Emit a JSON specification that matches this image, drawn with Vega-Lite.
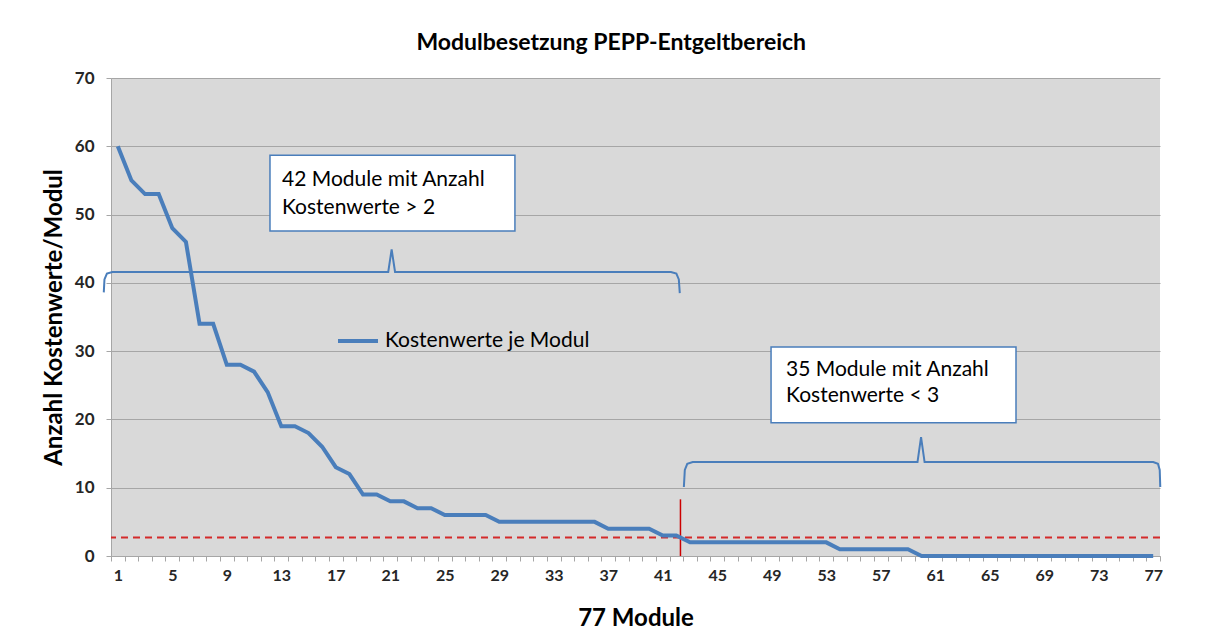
{
  "$schema": "https://vega.github.io/schema/vega-lite/v6.json",
  "width": 1049,
  "height": 478,
  "padding": {"left": 42, "top": 32, "right": 5, "bottom": 5},
  "background": "white",
  "title": {
    "text": "Modulbesetzung PEPP-Entgeltbereich",
    "font": "Lato",
    "fontSize": 23,
    "fontWeight": "bold",
    "color": "#000000",
    "anchor": "middle",
    "frame": "bounds",
    "dx": 8,
    "offset": 14
  },
  "config": {
    "view": {"fill": "#d9d9d9", "stroke": null},
    "font": "Lato"
  },
  "datasets": {
    "series": [
      {"modul": 1, "wert": 60, "serie": "Kostenwerte je Modul"},
      {"modul": 2, "wert": 55, "serie": "Kostenwerte je Modul"},
      {"modul": 3, "wert": 53, "serie": "Kostenwerte je Modul"},
      {"modul": 4, "wert": 53, "serie": "Kostenwerte je Modul"},
      {"modul": 5, "wert": 48, "serie": "Kostenwerte je Modul"},
      {"modul": 6, "wert": 46, "serie": "Kostenwerte je Modul"},
      {"modul": 7, "wert": 34, "serie": "Kostenwerte je Modul"},
      {"modul": 8, "wert": 34, "serie": "Kostenwerte je Modul"},
      {"modul": 9, "wert": 28, "serie": "Kostenwerte je Modul"},
      {"modul": 10, "wert": 28, "serie": "Kostenwerte je Modul"},
      {"modul": 11, "wert": 27, "serie": "Kostenwerte je Modul"},
      {"modul": 12, "wert": 24, "serie": "Kostenwerte je Modul"},
      {"modul": 13, "wert": 19, "serie": "Kostenwerte je Modul"},
      {"modul": 14, "wert": 19, "serie": "Kostenwerte je Modul"},
      {"modul": 15, "wert": 18, "serie": "Kostenwerte je Modul"},
      {"modul": 16, "wert": 16, "serie": "Kostenwerte je Modul"},
      {"modul": 17, "wert": 13, "serie": "Kostenwerte je Modul"},
      {"modul": 18, "wert": 12, "serie": "Kostenwerte je Modul"},
      {"modul": 19, "wert": 9, "serie": "Kostenwerte je Modul"},
      {"modul": 20, "wert": 9, "serie": "Kostenwerte je Modul"},
      {"modul": 21, "wert": 8, "serie": "Kostenwerte je Modul"},
      {"modul": 22, "wert": 8, "serie": "Kostenwerte je Modul"},
      {"modul": 23, "wert": 7, "serie": "Kostenwerte je Modul"},
      {"modul": 24, "wert": 7, "serie": "Kostenwerte je Modul"},
      {"modul": 25, "wert": 6, "serie": "Kostenwerte je Modul"},
      {"modul": 26, "wert": 6, "serie": "Kostenwerte je Modul"},
      {"modul": 27, "wert": 6, "serie": "Kostenwerte je Modul"},
      {"modul": 28, "wert": 6, "serie": "Kostenwerte je Modul"},
      {"modul": 29, "wert": 5, "serie": "Kostenwerte je Modul"},
      {"modul": 30, "wert": 5, "serie": "Kostenwerte je Modul"},
      {"modul": 31, "wert": 5, "serie": "Kostenwerte je Modul"},
      {"modul": 32, "wert": 5, "serie": "Kostenwerte je Modul"},
      {"modul": 33, "wert": 5, "serie": "Kostenwerte je Modul"},
      {"modul": 34, "wert": 5, "serie": "Kostenwerte je Modul"},
      {"modul": 35, "wert": 5, "serie": "Kostenwerte je Modul"},
      {"modul": 36, "wert": 5, "serie": "Kostenwerte je Modul"},
      {"modul": 37, "wert": 4, "serie": "Kostenwerte je Modul"},
      {"modul": 38, "wert": 4, "serie": "Kostenwerte je Modul"},
      {"modul": 39, "wert": 4, "serie": "Kostenwerte je Modul"},
      {"modul": 40, "wert": 4, "serie": "Kostenwerte je Modul"},
      {"modul": 41, "wert": 3, "serie": "Kostenwerte je Modul"},
      {"modul": 42, "wert": 3, "serie": "Kostenwerte je Modul"},
      {"modul": 43, "wert": 2, "serie": "Kostenwerte je Modul"},
      {"modul": 44, "wert": 2, "serie": "Kostenwerte je Modul"},
      {"modul": 45, "wert": 2, "serie": "Kostenwerte je Modul"},
      {"modul": 46, "wert": 2, "serie": "Kostenwerte je Modul"},
      {"modul": 47, "wert": 2, "serie": "Kostenwerte je Modul"},
      {"modul": 48, "wert": 2, "serie": "Kostenwerte je Modul"},
      {"modul": 49, "wert": 2, "serie": "Kostenwerte je Modul"},
      {"modul": 50, "wert": 2, "serie": "Kostenwerte je Modul"},
      {"modul": 51, "wert": 2, "serie": "Kostenwerte je Modul"},
      {"modul": 52, "wert": 2, "serie": "Kostenwerte je Modul"},
      {"modul": 53, "wert": 2, "serie": "Kostenwerte je Modul"},
      {"modul": 54, "wert": 1, "serie": "Kostenwerte je Modul"},
      {"modul": 55, "wert": 1, "serie": "Kostenwerte je Modul"},
      {"modul": 56, "wert": 1, "serie": "Kostenwerte je Modul"},
      {"modul": 57, "wert": 1, "serie": "Kostenwerte je Modul"},
      {"modul": 58, "wert": 1, "serie": "Kostenwerte je Modul"},
      {"modul": 59, "wert": 1, "serie": "Kostenwerte je Modul"},
      {"modul": 60, "wert": 0, "serie": "Kostenwerte je Modul"},
      {"modul": 61, "wert": 0, "serie": "Kostenwerte je Modul"},
      {"modul": 62, "wert": 0, "serie": "Kostenwerte je Modul"},
      {"modul": 63, "wert": 0, "serie": "Kostenwerte je Modul"},
      {"modul": 64, "wert": 0, "serie": "Kostenwerte je Modul"},
      {"modul": 65, "wert": 0, "serie": "Kostenwerte je Modul"},
      {"modul": 66, "wert": 0, "serie": "Kostenwerte je Modul"},
      {"modul": 67, "wert": 0, "serie": "Kostenwerte je Modul"},
      {"modul": 68, "wert": 0, "serie": "Kostenwerte je Modul"},
      {"modul": 69, "wert": 0, "serie": "Kostenwerte je Modul"},
      {"modul": 70, "wert": 0, "serie": "Kostenwerte je Modul"},
      {"modul": 71, "wert": 0, "serie": "Kostenwerte je Modul"},
      {"modul": 72, "wert": 0, "serie": "Kostenwerte je Modul"},
      {"modul": 73, "wert": 0, "serie": "Kostenwerte je Modul"},
      {"modul": 74, "wert": 0, "serie": "Kostenwerte je Modul"},
      {"modul": 75, "wert": 0, "serie": "Kostenwerte je Modul"},
      {"modul": 76, "wert": 0, "serie": "Kostenwerte je Modul"},
      {"modul": 77, "wert": 0, "serie": "Kostenwerte je Modul"}
    ],
    "boxes": [
      {"x1": 12.17, "x2": 30.15, "y1": 47.6, "y2": 58.7},
      {"x1": 48.95, "x2": 66.93, "y1": 19.5, "y2": 30.6}
    ],
    "boxtexts": [
      {"x": 13.05, "y": 55.1, "label": "42 Module mit Anzahl"},
      {"x": 13.05, "y": 51.0, "label": "Kostenwerte  > 2"},
      {"x": 50.05, "y": 27.3, "label": "35 Module mit Anzahl"},
      {"x": 50.05, "y": 23.4, "label": "Kostenwerte  < 3"}
    ],
    "braces": [
      {"b": "a", "i": 1, "x": -0.03, "y": 38.6},
      {"b": "a", "i": 2, "x": 0.02, "y": 40.5},
      {"b": "a", "i": 3, "x": 0.2, "y": 41.35},
      {"b": "a", "i": 4, "x": 0.6, "y": 41.6},
      {"b": "a", "i": 5, "x": 20.85, "y": 41.6},
      {"b": "a", "i": 6, "x": 21.1, "y": 44.9},
      {"b": "a", "i": 7, "x": 21.35, "y": 41.6},
      {"b": "a", "i": 8, "x": 41.6, "y": 41.6},
      {"b": "a", "i": 9, "x": 42.0, "y": 41.35},
      {"b": "a", "i": 10, "x": 42.18, "y": 40.5},
      {"b": "a", "i": 11, "x": 42.25, "y": 38.5},
      {"b": "b", "i": 1, "x": 42.55, "y": 10.1},
      {"b": "b", "i": 2, "x": 42.62, "y": 12.6},
      {"b": "b", "i": 3, "x": 42.8, "y": 13.5},
      {"b": "b", "i": 4, "x": 43.2, "y": 13.76},
      {"b": "b", "i": 5, "x": 59.7, "y": 13.76},
      {"b": "b", "i": 6, "x": 59.96, "y": 17.4},
      {"b": "b", "i": 7, "x": 60.22, "y": 13.76},
      {"b": "b", "i": 8, "x": 77.0, "y": 13.76},
      {"b": "b", "i": 9, "x": 77.35, "y": 13.5},
      {"b": "b", "i": 10, "x": 77.48, "y": 12.6},
      {"b": "b", "i": 11, "x": 77.52, "y": 10.1}
    ],
    "schwelle": [{"y": 2.7}],
    "grenze": [{"x": 42.3, "y1": 0, "y2": 8.3}]
  },
  "layer": [
    {
      "data": {"name": "boxes"},
      "mark": {"type": "rect", "fill": "white", "stroke": "#4a7ebb", "strokeWidth": 1.5},
      "encoding": {
        "x": {"field": "x1", "type": "quantitative", "scale": {"domain": [0.5, 77.5], "nice": false, "zero": false}},
        "x2": {"field": "x2"},
        "y": {"field": "y1", "type": "quantitative", "scale": {"domain": [0, 70], "nice": false}},
        "y2": {"field": "y2"}
      }
    },
    {
      "data": {"name": "boxtexts"},
      "mark": {"type": "text", "align": "left", "baseline": "middle", "font": "Lato", "fontSize": 21, "color": "#000000"},
      "encoding": {
        "x": {"field": "x", "type": "quantitative"},
        "y": {"field": "y", "type": "quantitative"},
        "text": {"field": "label"}
      }
    },
    {
      "data": {"name": "braces"},
      "mark": {"type": "line", "color": "#4a7ebb", "strokeWidth": 2, "clip": false},
      "encoding": {
        "x": {"field": "x", "type": "quantitative"},
        "y": {"field": "y", "type": "quantitative"},
        "detail": {"field": "b"},
        "order": {"field": "i"}
      }
    },
    {
      "data": {"name": "schwelle"},
      "mark": {"type": "rule", "color": "#d42a2a", "strokeWidth": 2, "strokeDash": [7, 5]},
      "encoding": {"y": {"field": "y", "type": "quantitative"}}
    },
    {
      "data": {"name": "grenze"},
      "mark": {"type": "rule", "color": "#cc0000", "strokeWidth": 1.5},
      "encoding": {
        "x": {"field": "x", "type": "quantitative"},
        "y": {"field": "y1", "type": "quantitative"},
        "y2": {"field": "y2"}
      }
    },
    {
      "data": {"name": "series"},
      "mark": {"type": "line", "strokeWidth": 4},
      "encoding": {
        "x": {
          "field": "modul",
          "type": "quantitative",
          "title": "77 Module",
          "axis": {
            "values": [0.5,1,1.5,2,2.5,3,3.5,4,4.5,5,5.5,6,6.5,7,7.5,8,8.5,9,9.5,10,10.5,11,11.5,12,12.5,13,13.5,14,14.5,15,15.5,16,16.5,17,17.5,18,18.5,19,19.5,20,20.5,21,21.5,22,22.5,23,23.5,24,24.5,25,25.5,26,26.5,27,27.5,28,28.5,29,29.5,30,30.5,31,31.5,32,32.5,33,33.5,34,34.5,35,35.5,36,36.5,37,37.5,38,38.5,39,39.5,40,40.5,41,41.5,42,42.5,43,43.5,44,44.5,45,45.5,46,46.5,47,47.5,48,48.5,49,49.5,50,50.5,51,51.5,52,52.5,53,53.5,54,54.5,55,55.5,56,56.5,57,57.5,58,58.5,59,59.5,60,60.5,61,61.5,62,62.5,63,63.5,64,64.5,65,65.5,66,66.5,67,67.5,68,68.5,69,69.5,70,70.5,71,71.5,72,72.5,73,73.5,74,74.5,75,75.5,76,76.5,77,77.5],
            "tickCount": 400,
            "labelExpr": "datum.value % 4 === 1 ? '' + datum.value : ''",
            "labelOverlap": false,
            "labelFlush": false,
            "grid": false,
            "domainColor": "#a6a6a6",
            "tickColor": "#a6a6a6",
            "tickOpacity": {"condition": {"test": "datum.value % 1 === 0", "value": 0}, "value": 1},
            "tickSize": 5,
            "labelPadding": 6,
            "labelFont": "Lato",
            "labelFontSize": 16,
            "labelFontWeight": "bold",
            "labelColor": "#262626",
            "titleFont": "Lato",
            "titleFontSize": 24,
            "titleFontWeight": "bold",
            "titleColor": "#000000",
            "titlePadding": 23
          }
        },
        "y": {
          "field": "wert",
          "type": "quantitative",
          "title": "Anzahl Kostenwerte/Modul",
          "axis": {
            "values": [0, 10, 20, 30, 40, 50, 60, 70],
            "grid": true,
            "gridColor": "#a6a6a6",
            "gridWidth": 1,
            "domainColor": "#a6a6a6",
            "tickColor": "#a6a6a6",
            "tickSize": 5,
            "labelPadding": 12,
            "labelFont": "Lato",
            "labelFontSize": 17,
            "labelFontWeight": "bold",
            "labelColor": "#262626",
            "titleFont": "Lato",
            "titleFontSize": 24,
            "titleFontWeight": "bold",
            "titleColor": "#000000",
            "titlePadding": 8
          }
        },
        "color": {
          "field": "serie",
          "type": "nominal",
          "scale": {"range": ["#4a7ebb"]},
          "legend": {
            "title": null,
            "orient": "none",
            "legendX": 225,
            "legendY": 241,
            "symbolType": "stroke",
            "symbolSize": 1600,
            "symbolStrokeWidth": 4,
            "labelFont": "Lato",
            "labelFontSize": 21,
            "labelColor": "#000000",
            "labelOffset": 5,
            "labelLimit": 0,
            "padding": 0
          }
        }
      }
    }
  ]
}
